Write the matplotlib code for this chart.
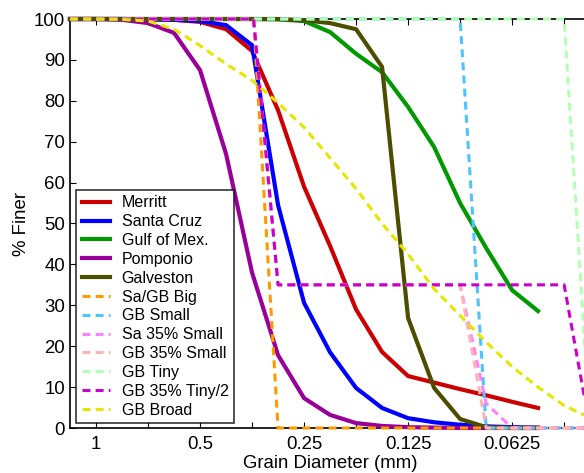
import matplotlib
matplotlib.use("Agg")
import matplotlib.pyplot as plt
from matplotlib.ticker import FixedLocator, NullFormatter, FixedFormatter

plt.rcParams['font.family'] = ['Liberation Sans', 'DejaVu Sans']

# sieve diameters (mm), quarter-phi steps
sieve = [1.1892, 1.0, 0.8409, 0.7071, 0.5946, 0.5, 0.4204, 0.3536, 0.2973,
         0.25, 0.2102, 0.1768, 0.1487, 0.125, 0.1051, 0.0884, 0.0743, 0.0625, 0.0526]

merritt = [100, 100, 100, 99.9, 99.8, 99.3, 97.5, 92.2, 77.7, 59, 44.5, 29, 18.6,
           12.7, 11.1, 9.5, 8.0, 6.4, 4.9]
santa_cruz = [100, 100, 100, 99.9, 99.8, 99.5, 98.5, 93.6, 54.5, 30.6, 18.5, 9.8, 4.9,
              2.4, 1.4, 0.8, 0.4, 0.2, 0.1]
gulf = [100, 100, 100, 100, 100, 100, 100, 100, 99.9, 99.5, 96.8, 91.5, 87, 78.5,
        68.7, 55, 44, 33.7, 28.6]
pomponio = [100, 100, 99.8, 99, 96.6, 87.5, 67, 38, 17.8, 7.3, 3.2, 1.2, 0.5, 0.2,
            0.1, 0, 0, 0, 0]
galveston = [100, 100, 100, 100, 100, 100, 100, 100, 100, 99.7, 99, 97.5, 88.3, 26.9,
             9.8, 2.2, 0.2, 0, 0]

big_d = [1.1892, 0.35, 0.2973, 0.0372]
big_v = [100, 100, 0, 0]
small_d = [1.1892, 0.0884, 0.0743, 0.0372]
small_v = [100, 100, 0, 0]
sa35_d = [1.1892, 0.35, 0.2973, 0.0884, 0.0743, 0.0625, 0.0372]
sa35_v = [100, 100, 35, 35, 6, 0, 0]
gb35_d = [1.1892, 0.35, 0.2973, 0.0884, 0.0743, 0.0372]
gb35_v = [100, 100, 35, 35, 0, 0]
tiny_d = [1.1892, 0.0442, 0.0372]
tiny_v = [100, 100, 0]
tiny35_d = [1.1892, 0.35, 0.2973, 0.0442, 0.0372]
tiny35_v = [100, 100, 35, 35, 0]
broad_d = [1.1892, 1.0, 0.8409, 0.7071, 0.5946, 0.5, 0.4204, 0.3536, 0.2973, 0.25,
           0.2102, 0.1768, 0.1487, 0.125, 0.1051, 0.0884, 0.0743, 0.0625, 0.0526,
           0.0442, 0.0372]
broad_v = [100, 100, 99.9, 99.5, 97.5, 93.5, 89, 85, 79.5, 73.5, 66, 58.5, 50, 42.5,
           34, 27.5, 21, 15, 10, 5.5, 2.5]

major_ticks = [1, 0.5, 0.25, 0.125, 0.0625]
major_labels = ['1', '0.5', '0.25', '0.125', '0.0625']
minor_ticks = [0.7071, 0.3536, 0.1768, 0.0884, 0.0442]

fig = plt.figure(figsize=(5.84, 4.73), dpi=100)
ax = fig.add_axes([70/584, 45/473, 520/584, 409/473])

solid = [("Merritt", sieve, merritt, "#cc0000"),
         ("Santa Cruz", sieve, santa_cruz, "#0000ff"),
         ("Gulf of Mex.", sieve, gulf, "#009900"),
         ("Pomponio", sieve, pomponio, "#990099"),
         ("Galveston", sieve, galveston, "#4d4d00")]
dashed = [("Sa/GB Big", big_d, big_v, "#ff9900"),
          ("GB Small", small_d, small_v, "#4dc3ff"),
          ("Sa 35% Small", sa35_d, sa35_v, "#ff80ff"),
          ("GB 35% Small", gb35_d, gb35_v, "#ffb3b3"),
          ("GB Tiny", tiny_d, tiny_v, "#b3ffb3"),
          ("GB 35% Tiny/2", tiny35_d, tiny35_v, "#cc00cc"),
          ("GB Broad", broad_d, broad_v, "#e6e600")]

for name, d, v, c in solid:
    ax.plot(d, v, color=c, lw=3.0, label=name, clip_on=False, zorder=3,
            solid_joinstyle='miter')
for name, d, v, c in dashed:
    ax.plot(d, v, color=c, lw=2.2, ls=(0, (2.6, 1.7)), label=name, clip_on=False,
            zorder=3)

ax.set_xscale('log', base=2)
ax.set_xlim(1.1892, 0.0372)
ax.set_ylim(0, 100)
ax.xaxis.set_major_locator(FixedLocator(major_ticks))
ax.xaxis.set_major_formatter(FixedFormatter(major_labels))
ax.xaxis.set_minor_locator(FixedLocator(minor_ticks))
ax.xaxis.set_minor_formatter(NullFormatter())
ax.set_yticks(range(0, 101, 10))

ax.tick_params(which='both', direction='in', top=True, right=True, length=4,
               width=0.8, labelsize=13.4)
ax.tick_params(axis='x', pad=6)
ax.tick_params(axis='y', pad=3.5)
ax.spines['right'].set_visible(False)
for s in ['left', 'bottom', 'top']:
    ax.spines[s].set_linewidth(1.2)

ax.set_xlabel("Grain Diameter (mm)", fontsize=13.4, labelpad=1)
ax.set_ylabel("% Finer", fontsize=13.4, labelpad=3)

leg = ax.legend(loc='lower left', bbox_to_anchor=(0.0115, 0.012), borderaxespad=0,
                fontsize=11.5, frameon=True, fancybox=False, labelspacing=0.24,
                handlelength=1.75, handletextpad=0.75, borderpad=0.35)
leg.get_frame().set_edgecolor('black')
leg.get_frame().set_linewidth(1.2)
leg.set_zorder(5)

fig.savefig("out.png", dpi=100)
